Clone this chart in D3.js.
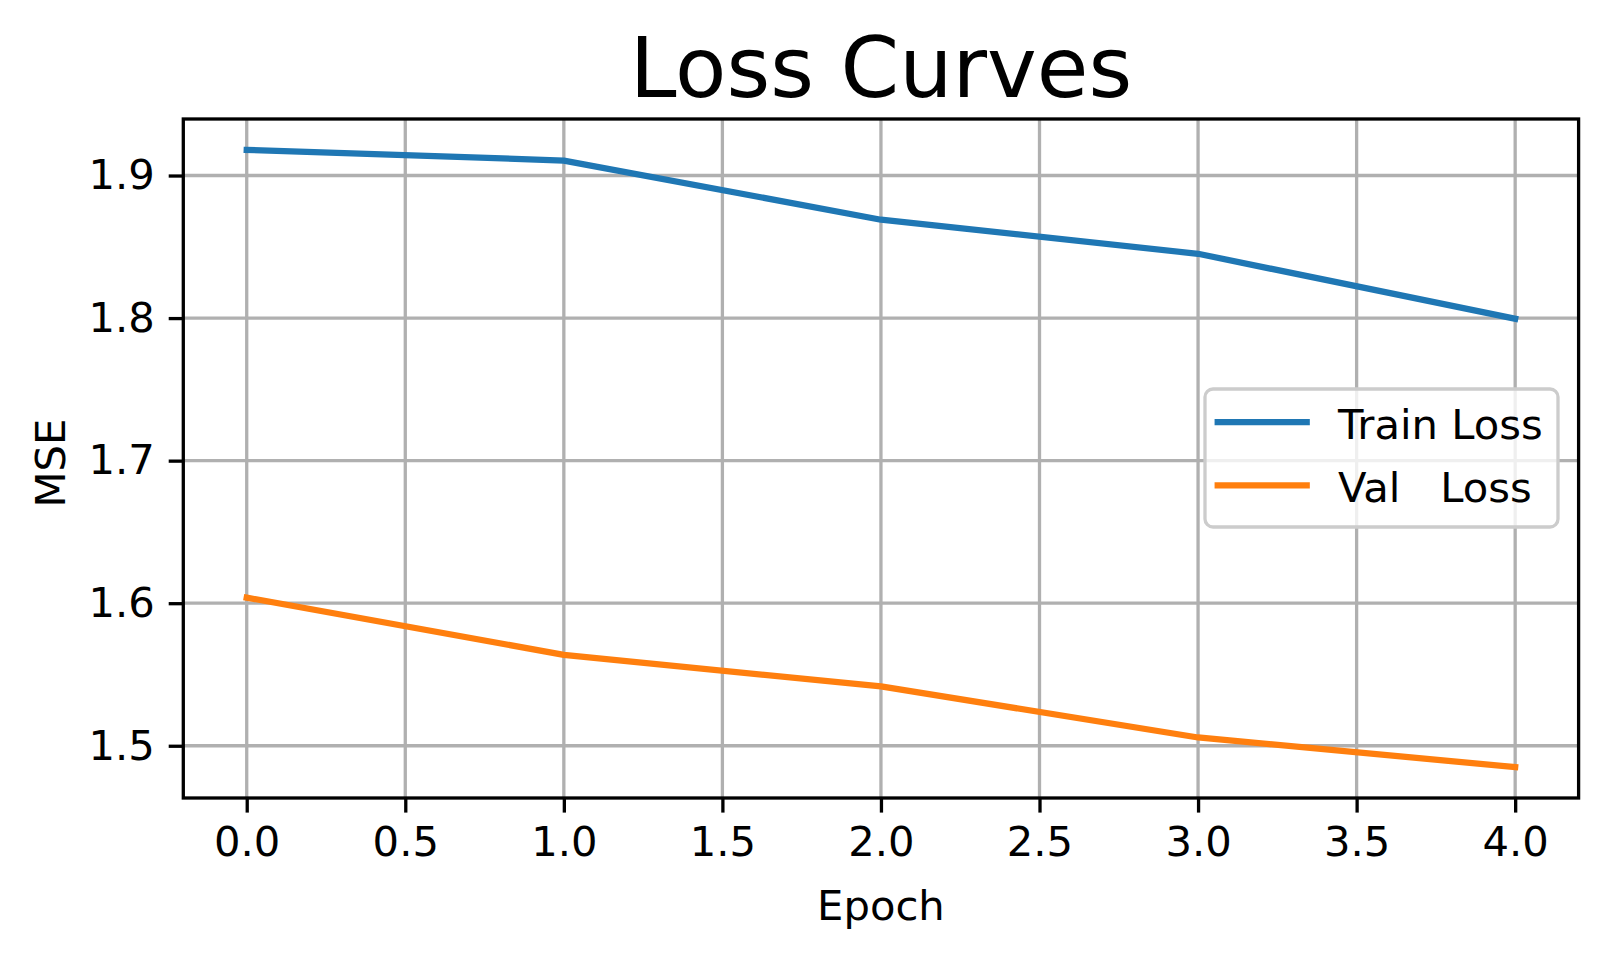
<!DOCTYPE html>
<html>
<head>
<meta charset="utf-8">
<script src="https://cdn.jsdelivr.net/npm/d3@7.9.0/dist/d3.min.js"></script>
<style>
  body { margin: 0; background: #fff; }
  text { font-family: "DejaVu Sans", sans-serif; fill: #000; }
</style>
</head>
<body>
<svg id="chart"></svg>
<script>
const epochs = [0, 1, 2, 3, 4];
const trainLoss = [1.918, 1.9105, 1.869, 1.8451, 1.7995];
const valLoss = [1.6039, 1.5638, 1.5416, 1.5058, 1.485];
const xTicks = [0, 0.5, 1, 1.5, 2, 2.5, 3, 3.5, 4];
const yTicks = [1.5, 1.6, 1.7, 1.8, 1.9];
const seriesNames = ["Train Loss", "Val   Loss"];
const colors = ["#1f77b4", "#ff7f0e"];

const width = 1609, height = 958;
const margin = { left: 183.3, right: width - 1578.6, top: 119, bottom: height - 798 };
const innerW = width - margin.left - margin.right;
const innerH = height - margin.top - margin.bottom;

const svg = d3.select("#chart")
    .attr("width", width)
    .attr("height", height);

svg.append("rect").attr("width", width).attr("height", height).attr("fill", "#fff");

// matplotlib style: 5% margins around the data
const allY = trainLoss.concat(valLoss);
const yMin = d3.min(allY), yMax = d3.max(allY);
const yPad = (yMax - yMin) * 0.05;

const x = d3.scaleLinear().domain([-0.2, 4.2]).range([0, innerW]);
const y = d3.scaleLinear().domain([yMin - yPad, yMax + yPad]).range([innerH, 0]);

const g = svg.append("g").attr("transform", `translate(${margin.left},${margin.top})`);

// grid
g.append("g").selectAll("line")
    .data(xTicks).enter().append("line")
    .attr("x1", d => x(d)).attr("x2", d => x(d))
    .attr("y1", 0).attr("y2", innerH)
    .attr("stroke", "#b0b0b0").attr("stroke-width", 3.3);
g.append("g").selectAll("line")
    .data(yTicks).enter().append("line")
    .attr("x1", 0).attr("x2", innerW)
    .attr("y1", d => y(d)).attr("y2", d => y(d))
    .attr("stroke", "#b0b0b0").attr("stroke-width", 3.3);

// lines
const line = d3.line().x((d, i) => x(epochs[i])).y(d => y(d));
[trainLoss, valLoss].forEach((series, i) => {
    g.append("path")
        .datum(series)
        .attr("d", line)
        .attr("fill", "none")
        .attr("stroke", colors[i])
        .attr("stroke-width", 6.25)
        .attr("stroke-linejoin", "round")
        .attr("stroke-linecap", "square");
});

// axes
const xAxis = g.append("g")
    .attr("transform", `translate(0,${innerH})`)
    .call(d3.axisBottom(x).tickValues(xTicks).tickFormat(d3.format(".1f")).tickSize(14.6).tickPadding(14));
const yAxis = g.append("g")
    .call(d3.axisLeft(y).tickValues(yTicks).tickFormat(d3.format(".1f")).tickSize(14.6).tickPadding(14));

[xAxis, yAxis].forEach(a => {
    a.select(".domain").remove();
    a.selectAll(".tick line").attr("stroke", "#000").attr("stroke-width", 3.3);
    a.selectAll(".tick text").attr("font-size", 41.7).attr("font-family", "DejaVu Sans").attr("fill", "#000");
});

// spines
g.append("rect")
    .attr("x", 0).attr("y", 0).attr("width", innerW).attr("height", innerH)
    .attr("fill", "none").attr("stroke", "#000").attr("stroke-width", 3.3);

// title and labels
svg.append("text")
    .attr("x", margin.left + innerW / 2).attr("y", 97)
    .attr("text-anchor", "middle").attr("font-size", 84)
    .text("Loss Curves");
svg.append("text")
    .attr("x", margin.left + innerW / 2).attr("y", 920)
    .attr("text-anchor", "middle").attr("font-size", 41.7)
    .text("Epoch");
svg.append("text")
    .attr("transform", `translate(65,463) rotate(-90)`)
    .attr("text-anchor", "middle").attr("font-size", 41.7)
    .text("MSE");

// legend
const legend = svg.append("g").attr("transform", "translate(1205,389)");
legend.append("rect")
    .attr("width", 353).attr("height", 138)
    .attr("rx", 8).attr("ry", 8)
    .attr("fill", "#fff").attr("fill-opacity", 0.8)
    .attr("stroke", "#cccccc").attr("stroke-width", 3.3);
seriesNames.forEach((name, i) => {
    const row = legend.append("g").attr("transform", `translate(0,${33 + i * 63.4})`);
    row.append("line")
        .attr("x1", 12.7).attr("x2", 101.7)
        .attr("stroke", colors[i]).attr("stroke-width", 6.25)
        .attr("stroke-linecap", "square");
    row.append("text")
        .attr("x", 133).attr("y", 16.5)
        .attr("font-size", 41.7)
        .style("white-space", "pre")
        .text(name);
});
</script>
</body>
</html>
